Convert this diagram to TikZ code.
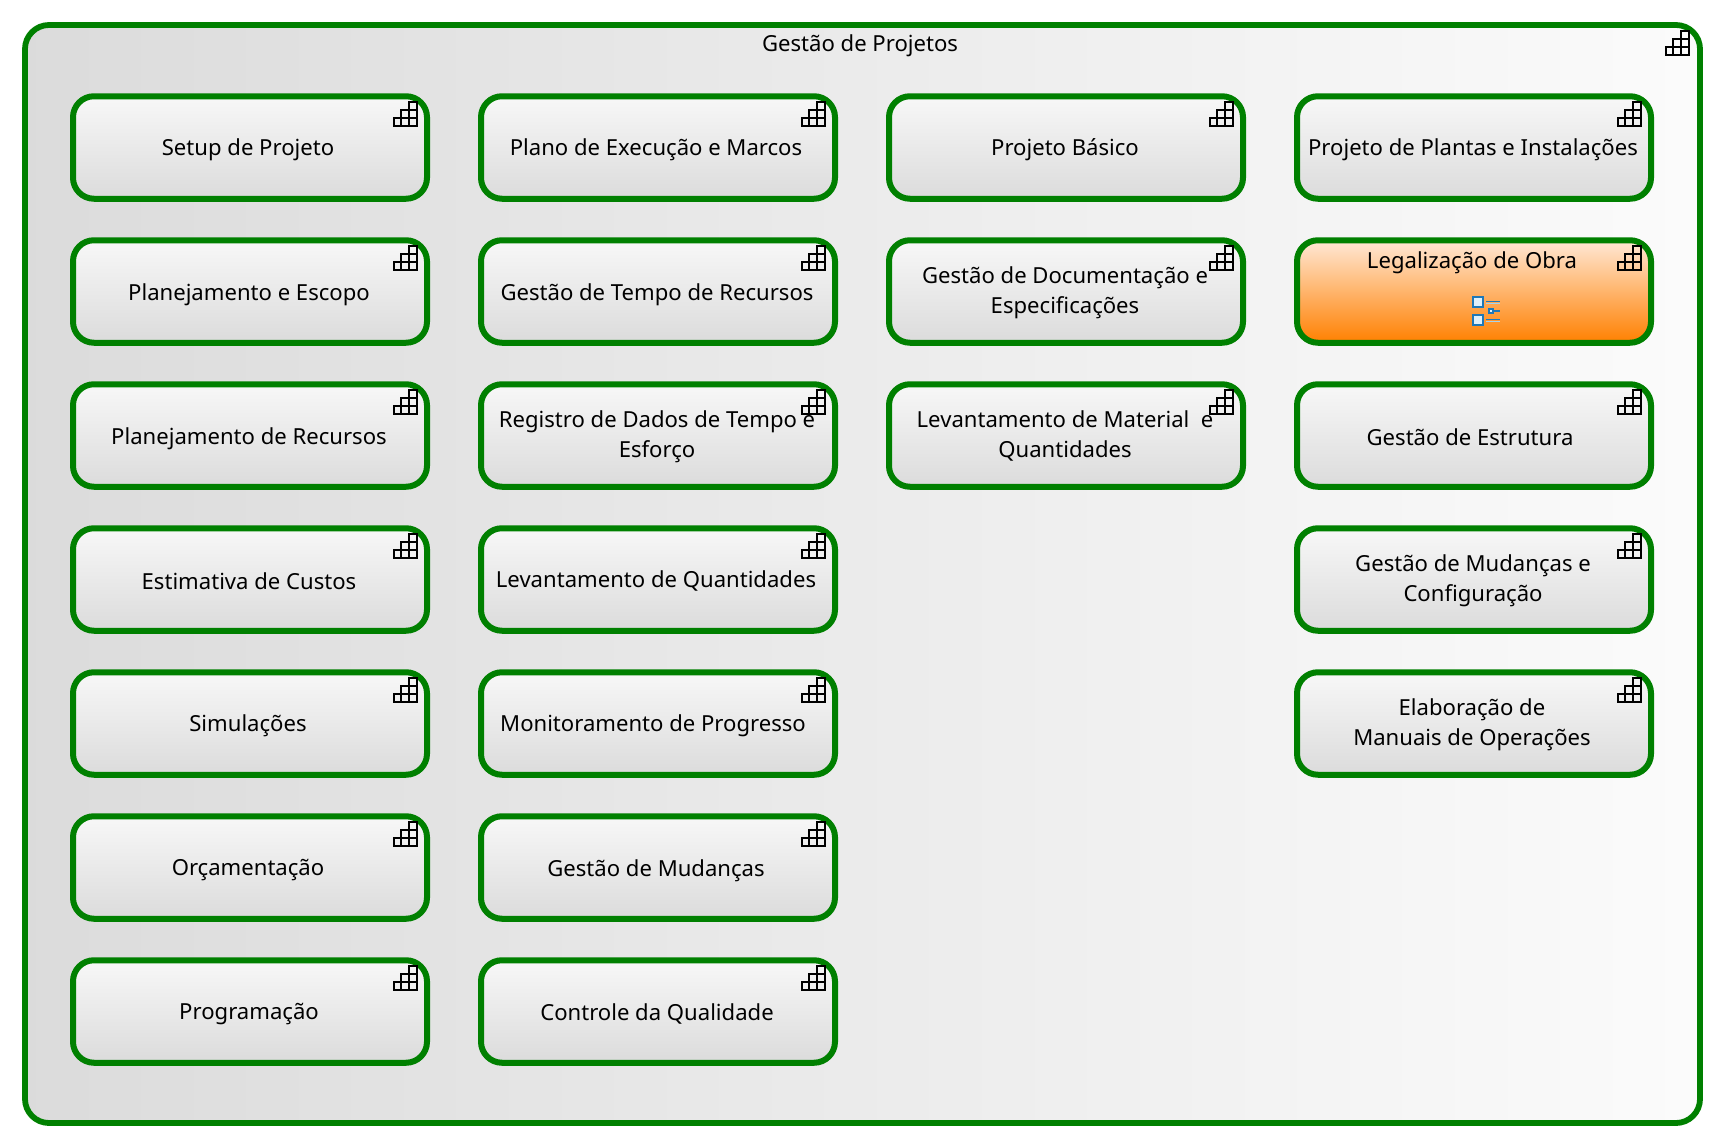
\documentclass[tikz,border=0pt]{standalone}
\usepackage{fontspec}
\setmainfont{Noto Sans}
\definecolor{pgreen}{HTML}{008000}
\definecolor{iconblue}{HTML}{1F78B8}
\definecolor{iconfill}{HTML}{E0F0FA}
\definecolor{iconline}{HTML}{A8D4EC}
\tikzset{
  x=1pt,y=-1pt,
  silverbox/.style={draw=pgreen,line width=6pt,rounded corners=21pt,minimum width=354pt,minimum height=102.5pt,outer sep=0pt,inner sep=0pt,top color=white!97!black,bottom color=white!86!black},
  orangebox/.style={silverbox},
  ptext/.style={font=\fontsize{22.1}{30}\selectfont,align=center,inner sep=0pt,text=black,yshift=-2.3pt},
  stairs/.pic={
    \draw[black,line width=2pt,line cap=rect]
      (-33.5,22)--(-10,22) (-25.7,14)--(-10,14) (-17.9,6)--(-10,6)
      (-33.5,30)--(-10,30)
      (-33.5,22)--(-33.5,30) (-25.7,14)--(-25.7,30) (-17.9,6)--(-17.9,30) (-10,6)--(-10,30);
  }
}
\newcommand{\pitem}[7][silverbox]{%
  \node[#1] (#2) at (#3,#4) {};
  \node[ptext] (#2t) at (#5,#6) {#7};
  \pic at (#2.north east) {stairs};
}
\begin{document}
\begin{tikzpicture}
\useasboundingbox (0,0) rectangle (1722,1146);
\definecolor{orangetop}{HTML}{FFE8D6}
\definecolor{orangebot}{HTML}{FF8000}
\node[draw=pgreen,line width=5.8pt,rounded corners=24pt,minimum width=1675pt,minimum height=1098pt,outer sep=0pt,inner sep=0pt,left color=white!86!black,right color=white!98.5!black] (outer) at (862.5,574) {};
\node[ptext] (title) at (860,43.5) {Gestão de Projetos};
\pic at ([xshift=-1pt]outer.north east) {stairs};
% column 1
\pitem{a1}{250}{147.5}{248}{147.5}{Setup de Projeto}
\pitem{a2}{250}{291.5}{249}{292}{Planejamento e Escopo}
\pitem{a3}{250}{435.5}{249}{436}{Planejamento de Recursos}
\pitem{a4}{250}{579.5}{249}{578.5}{Estimativa de Custos}
\pitem{a5}{250}{723.5}{248}{723.5}{Simulações}
\pitem{a6}{250}{867.5}{248}{868}{Orçamentação}
\pitem{a7}{250}{1011.5}{249}{1011.5}{Programação}
% column 2
\pitem{b1}{658}{147.5}{656}{147.5}{Plano de Execução e Marcos}
\pitem{b2}{658}{291.5}{657}{292}{Gestão de Tempo de Recursos}
\pitem{b3}{658}{435.5}{657}{434.5}{Registro de Dados de Tempo e\\Esforço}
\pitem{b4}{658}{579.5}{656}{579}{Levantamento de Quantidades}
\pitem{b5}{658}{723.5}{653}{723.5}{Monitoramento de Progresso}
\pitem{b6}{658}{867.5}{656}{868}{Gestão de Mudanças}
\pitem{b7}{658}{1011.5}{657}{1011.5}{Controle da Qualidade}
% column 3
\pitem{c1}{1066}{147.5}{1065}{147.5}{Projeto Básico}
\pitem{c2}{1066}{291.5}{1065}{290.5}{Gestão de Documentação e\\Especificações}
\pitem{c3}{1066}{435.5}{1065}{434}{Levantamento de Material\ \ e\\Quantidades}
% column 4
\pitem{d1}{1474}{147.5}{1473}{147.5}{Projeto de Plantas e Instalações}
\pitem[orangebox,top color=orangetop,bottom color=orangebot]{d2}{1474}{291.5}{1472}{260}{Legalização de Obra}
\pitem{d3}{1474}{435.5}{1470}{434.5}{Gestão de Estrutura}
\pitem{d4}{1474}{579.5}{1473}{578.5}{Gestão de Mudanças e\\Configuração}
\pitem{d5}{1474}{723.5}{1472}{722.5}{Elaboração de\\Manuais de Operações}
% checklist icon
\draw[iconblue,fill=iconfill,line width=2pt] (1473,297) rectangle (1483,307);
\draw[iconblue,fill=iconfill,line width=2pt] (1473,315) rectangle (1483,325);
\draw[iconblue,fill=iconfill,line width=1.6pt] (1489,309) rectangle (1493,313);
\draw[iconblue,line width=1.5pt] (1486,301.5) -- (1500,301.5) (1486,319.5) -- (1500,319.5) (1493,311) -- (1500,311);
\draw[iconline,line width=1pt] (1486,303) -- (1500,303) (1486,321) -- (1500,321);
\end{tikzpicture}
\end{document}
